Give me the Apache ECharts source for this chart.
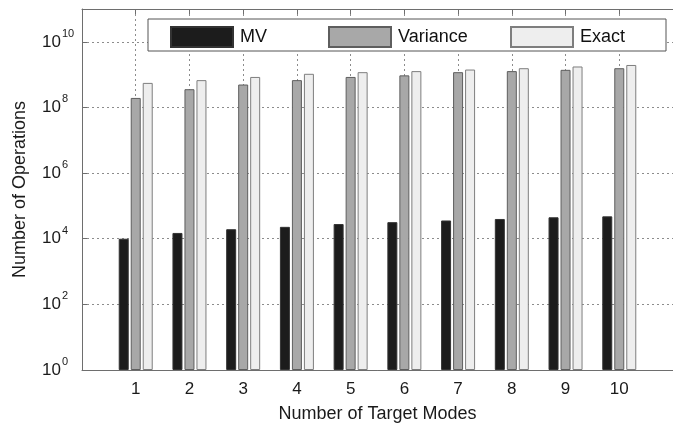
<!DOCTYPE html>
<html>
<head>
<meta charset="utf-8">
<script src="https://cdn.jsdelivr.net/npm/echarts@6/dist/echarts.min.js"></script>
<style>html,body{margin:0;padding:0;background:#fff}#c{width:673px;height:428px}</style>
</head>
<body>
<div id="c"></div>
<script>
var categories = [1, 2, 3, 4, 5, 6, 7, 8, 9, 10];
var mvValues = [1.0e4, 1.5e4, 1.95e4, 2.3e4, 2.8e4, 3.2e4, 3.6e4, 4.0e4, 4.5e4, 4.8e4];
var varianceValues = [1.95e8, 3.6e8, 5.0e8, 6.8e8, 8.5e8, 9.5e8, 1.19e9, 1.28e9, 1.4e9, 1.57e9];
var exactValues = [5.6e8, 6.8e8, 8.5e8, 1.06e9, 1.19e9, 1.28e9, 1.43e9, 1.57e9, 1.77e9, 1.97e9];
var seriesNames = ['MV', 'Variance', 'Exact'];

function pairs(vals) { return categories.map(function (c, i) { return [c, vals[i]]; }); }

var FONT = 'Liberation Sans, Arial, sans-serif';
var chart = echarts.init(document.getElementById('c'), null, {renderer: 'canvas'});
var axisColor = '#6e6e6e';
var gridLine = {show: true, lineStyle: {color: '#8c8c8c', type: [2, 3], width: 1}};

function legendAt(name, left) {
  return {data: [name], left: left, top: 26, padding: 0, itemWidth: 62, itemHeight: 20, icon: 'rect',
    textStyle: {fontSize: 18, color: '#111', fontFamily: FONT, padding: [0, 0, 0, 2]},
    selectedMode: false, z: 5};
}

var option = {
  animation: false,
  backgroundColor: '#ffffff',
  textStyle: {fontFamily: FONT},
  grid: {left: 82, top: 9, width: 592, height: 369, containLabel: false},
  xAxis: [{
    type: 'value', min: 0, max: 11, interval: 1,
    name: 'Number of Target Modes', nameLocation: 'middle', nameGap: 35,
    nameTextStyle: {fontSize: 18, color: '#1a1a1a', fontFamily: FONT},
    axisLine: {show: true, lineStyle: {color: axisColor}},
    axisTick: {show: true, inside: true, length: 5, lineStyle: {color: axisColor}},
    axisLabel: {show: true, margin: 11, fontSize: 17, color: '#1a1a1a', fontFamily: FONT,
      showMinLabel: false, showMaxLabel: false,
      formatter: function (v) { return (v >= 1 && v <= 10) ? String(v) : ''; }},
    splitLine: gridLine
  }, {
    type: 'value', min: 0, max: 11, interval: 1, position: 'top',
    axisLine: {show: true, onZero: false, lineStyle: {color: axisColor}},
    axisTick: {show: true, inside: true, length: 5, lineStyle: {color: axisColor}},
    axisLabel: {show: false}, splitLine: {show: false}
  }],
  yAxis: [{
    type: 'log', logBase: 10, min: 1, max: 1e11, interval: 2,
    name: 'Number of Operations', nameLocation: 'middle', nameGap: 53,
    nameTextStyle: {fontSize: 18, color: '#1a1a1a', fontFamily: FONT},
    axisLine: {show: true, lineStyle: {color: axisColor}},
    axisTick: {show: true, inside: true, length: 5, lineStyle: {color: axisColor}},
    axisLabel: {
      show: true, margin: 40, align: 'left', color: '#1a1a1a', fontFamily: FONT,
      formatter: function (v) {
        var e = Math.round(Math.log(v) / Math.LN10);
        if (e > 10 || e % 2 !== 0) return '';
        return '{b|10}{s|' + e + '}';
      },
      rich: {
        b: {fontSize: 17, fontFamily: FONT, color: '#1a1a1a'},
        s: {fontSize: 11, fontFamily: FONT, color: '#1a1a1a', padding: [0, 0, 16, 1]}
      }
    },
    splitLine: gridLine
  }],
  graphic: [{
    type: 'rect', z: 3, silent: true,
    shape: {x: 148, y: 19, width: 518, height: 32},
    style: {fill: '#ffffff', stroke: '#555555', lineWidth: 1}
  }],
  legend: [legendAt(seriesNames[0], 170), legendAt(seriesNames[1], 328), legendAt(seriesNames[2], 510)],
  series: [
    {name: seriesNames[0], type: 'bar', data: pairs(mvValues), barWidth: 10, barGap: '20%',
      itemStyle: {color: '#1c1c1c', borderColor: '#333333', borderWidth: 1}},
    {name: seriesNames[1], type: 'bar', data: pairs(varianceValues), barWidth: 10, barGap: '20%',
      itemStyle: {color: '#a8a8a8', borderColor: '#5e5e5e', borderWidth: 1}},
    {name: seriesNames[2], type: 'bar', data: pairs(exactValues), barWidth: 10, barGap: '20%',
      itemStyle: {color: '#eeeeee', borderColor: '#7e7e7e', borderWidth: 1}}
  ]
};
chart.setOption(option);
</script>
</body>
</html>
